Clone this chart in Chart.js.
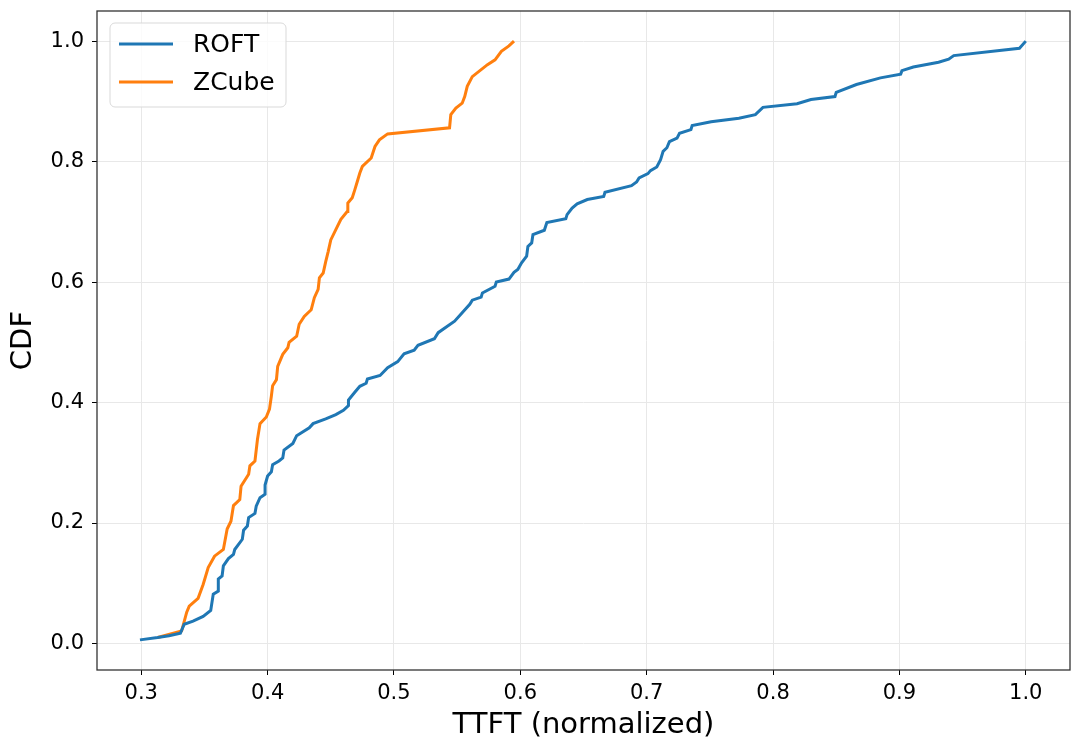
<!DOCTYPE html>
<html>
<head>
<meta charset="utf-8">
<script src="https://cdn.jsdelivr.net/npm/chart.js@4.4.1/dist/chart.umd.min.js"></script>
<style>
  html, body { margin: 0; padding: 0; background: #fff; }
  #wrap { width: 1080px; height: 753px; }
</style>
</head>
<body>
<div id="wrap"><canvas id="cdfChart" width="1080" height="753"></canvas></div>
<script>
const roftX = [0.299, 0.313, 0.322, 0.331, 0.334, 0.341, 0.349, 0.355, 0.357, 0.361, 0.361, 0.364, 0.365, 0.369, 0.373, 0.374,
  0.380, 0.381, 0.384, 0.385, 0.390, 0.391, 0.394, 0.398, 0.398, 0.400, 0.403, 0.404, 0.409, 0.412, 0.413, 0.420, 0.423,
  0.433, 0.436, 0.446, 0.454, 0.460, 0.464, 0.464, 0.469, 0.473, 0.478, 0.479, 0.489, 0.495, 0.503, 0.508, 0.516, 0.519,
  0.532, 0.535, 0.548, 0.560, 0.562, 0.569, 0.570, 0.580, 0.581, 0.591, 0.595, 0.598, 0.601, 0.605, 0.606, 0.609, 0.610,
  0.619, 0.621, 0.636, 0.637, 0.641, 0.645, 0.653, 0.666, 0.667, 0.688, 0.692, 0.694, 0.701, 0.703, 0.708, 0.711, 0.713,
  0.716, 0.718, 0.724, 0.726, 0.735, 0.736, 0.751, 0.773, 0.786, 0.792, 0.819, 0.830, 0.849, 0.850, 0.866, 0.885, 0.901,
  0.902, 0.911, 0.931, 0.939, 0.943, 0.995, 1.000];
const roftY = [0.006, 0.010, 0.013, 0.017, 0.032, 0.037, 0.045, 0.055, 0.082, 0.087, 0.107, 0.112, 0.129, 0.141, 0.148, 0.156,
  0.173, 0.188, 0.195, 0.209, 0.216, 0.228, 0.242, 0.248, 0.263, 0.278, 0.285, 0.297, 0.303, 0.308, 0.321, 0.332, 0.345,
  0.358, 0.365, 0.373, 0.380, 0.387, 0.395, 0.404, 0.417, 0.427, 0.432, 0.439, 0.445, 0.458, 0.468, 0.481, 0.487, 0.495,
  0.506, 0.516, 0.535, 0.563, 0.570, 0.575, 0.582, 0.593, 0.600, 0.605, 0.616, 0.621, 0.632, 0.643, 0.659, 0.665, 0.679,
  0.686, 0.699, 0.705, 0.712, 0.723, 0.730, 0.737, 0.742, 0.749, 0.760, 0.766, 0.773, 0.780, 0.785, 0.791, 0.803, 0.817,
  0.823, 0.833, 0.839, 0.847, 0.853, 0.860, 0.866, 0.872, 0.878, 0.890, 0.896, 0.903, 0.908, 0.915, 0.928, 0.939, 0.945,
  0.951, 0.957, 0.965, 0.970, 0.976, 0.988, 1.000];

const zcubeX = [0.313, 0.332, 0.336, 0.338, 0.345, 0.349, 0.353, 0.358, 0.365, 0.368, 0.371, 0.373, 0.378, 0.379, 0.385, 0.386,
  0.390, 0.392, 0.394, 0.399, 0.4015, 0.403, 0.404, 0.407, 0.408, 0.412, 0.416, 0.417, 0.423, 0.425, 0.429, 0.4345, 0.437,
  0.440, 0.441, 0.444, 0.446, 0.448, 0.450, 0.454, 0.458, 0.463, 0.4635, 0.467, 0.469, 0.471, 0.473, 0.475, 0.482, 0.485,
  0.4885, 0.495, 0.544, 0.545, 0.549, 0.554, 0.556, 0.558, 0.562, 0.574, 0.580, 0.585, 0.591, 0.595];
const zcubeY = [0.010, 0.021, 0.052, 0.062, 0.075, 0.098, 0.126, 0.145, 0.156, 0.190, 0.203, 0.229, 0.239, 0.261, 0.281, 0.295,
  0.303, 0.339, 0.365, 0.376, 0.389, 0.411, 0.428, 0.438, 0.460, 0.480, 0.491, 0.500, 0.510, 0.530, 0.543, 0.554, 0.574,
  0.588, 0.607, 0.615, 0.634, 0.651, 0.670, 0.687, 0.704, 0.717, 0.731, 0.740, 0.753, 0.767, 0.781, 0.792, 0.806, 0.825,
  0.836, 0.846, 0.856, 0.878, 0.889, 0.897, 0.908, 0.925, 0.941, 0.961, 0.969, 0.983, 0.992, 1.000];

const xTicks = [0.3, 0.4, 0.5, 0.6, 0.7, 0.8, 0.9, 1.0];
const yTicks = [0.0, 0.2, 0.4, 0.6, 0.8, 1.0];

function toPoints(xs, ys) {
  return xs.map((x, i) => ({ x: x, y: ys[i] }));
}

const FONT = "'DejaVu Sans', sans-serif";

// frame round the plot area plus a matplotlib style legend in the upper left
const framePlugin = {
  id: 'frame',
  afterDraw(chart) {
    const ctx = chart.ctx;
    const a = chart.chartArea;
    ctx.save();
    ctx.strokeStyle = '#333';
    ctx.lineWidth = 1.3;
    ctx.strokeRect(a.left, a.top, a.right - a.left, a.bottom - a.top);

    // legend box
    const bx = 110, by = 23, bw = 176, bh = 84, r = 5;
    ctx.beginPath();
    ctx.moveTo(bx + r, by);
    ctx.arcTo(bx + bw, by, bx + bw, by + bh, r);
    ctx.arcTo(bx + bw, by + bh, bx, by + bh, r);
    ctx.arcTo(bx, by + bh, bx, by, r);
    ctx.arcTo(bx, by, bx + bw, by, r);
    ctx.closePath();
    ctx.fillStyle = 'rgba(255,255,255,0.8)';
    ctx.fill();
    ctx.strokeStyle = '#d9d9d9';
    ctx.lineWidth = 1;
    ctx.stroke();

    chart.data.datasets.forEach((ds, i) => {
      const y = 44 + i * 38;
      ctx.beginPath();
      ctx.moveTo(119, y);
      ctx.lineTo(173, y);
      ctx.strokeStyle = ds.borderColor;
      ctx.lineWidth = 3;
      ctx.stroke();
      ctx.fillStyle = '#000';
      ctx.font = '25px ' + FONT;
      ctx.textBaseline = 'middle';
      ctx.textAlign = 'left';
      ctx.fillText(ds.label, 193, y + 1);
    });
    ctx.restore();
  }
};

new Chart(document.getElementById('cdfChart'), {
  type: 'line',
  data: {
    datasets: [
      { label: 'ROFT', data: toPoints(roftX, roftY), borderColor: '#1f77b4', borderWidth: 3, pointRadius: 0, tension: 0, fill: false },
      { label: 'ZCube', data: toPoints(zcubeX, zcubeY), borderColor: '#ff7f0e', borderWidth: 3, pointRadius: 0, tension: 0, fill: false }
    ]
  },
  options: {
    responsive: false,
    animation: false,
    layout: { padding: { left: 0, right: 10, top: 11, bottom: 0 } },
    plugins: {
      legend: { display: false },
      tooltip: { enabled: false }
    },
    scales: {
      x: {
        type: 'linear',
        min: 0.265,
        max: 1.035,
        afterBuildTicks: (scale) => { scale.ticks = xTicks.map(v => ({ value: v })); },
        afterFit: (scale) => { scale.height = 83; scale.paddingLeft = 0; scale.paddingRight = 0; },
        ticks: {
          color: '#000',
          font: { family: FONT, size: 21 },
          padding: 6,
          maxRotation: 0,
          callback: (v) => Number(v).toFixed(1)
        },
        grid: { color: '#e8e8e8', lineWidth: 1, tickColor: '#000', tickLength: 5 },
        border: { display: false },
        title: {
          display: true,
          text: 'TTFT (normalized)',
          color: '#000',
          font: { family: FONT, size: 29 },
          padding: { top: 0, bottom: 10 }
        }
      },
      y: {
        type: 'linear',
        min: -0.044,
        max: 1.05,
        afterBuildTicks: (scale) => { scale.ticks = yTicks.map(v => ({ value: v })); },
        afterFit: (scale) => { scale.width = 97; scale.paddingTop = 0; scale.paddingBottom = 0; },
        ticks: {
          color: '#000',
          font: { family: FONT, size: 21 },
          padding: 8,
          callback: (v) => Number(v).toFixed(1)
        },
        grid: { color: '#e8e8e8', lineWidth: 1, tickColor: '#000', tickLength: 5 },
        border: { display: false },
        title: {
          display: true,
          text: 'CDF',
          color: '#000',
          font: { family: FONT, size: 29 },
          padding: { top: 6, bottom: 0 }
        }
      }
    }
  },
  plugins: [framePlugin]
});
</script>
</body>
</html>
